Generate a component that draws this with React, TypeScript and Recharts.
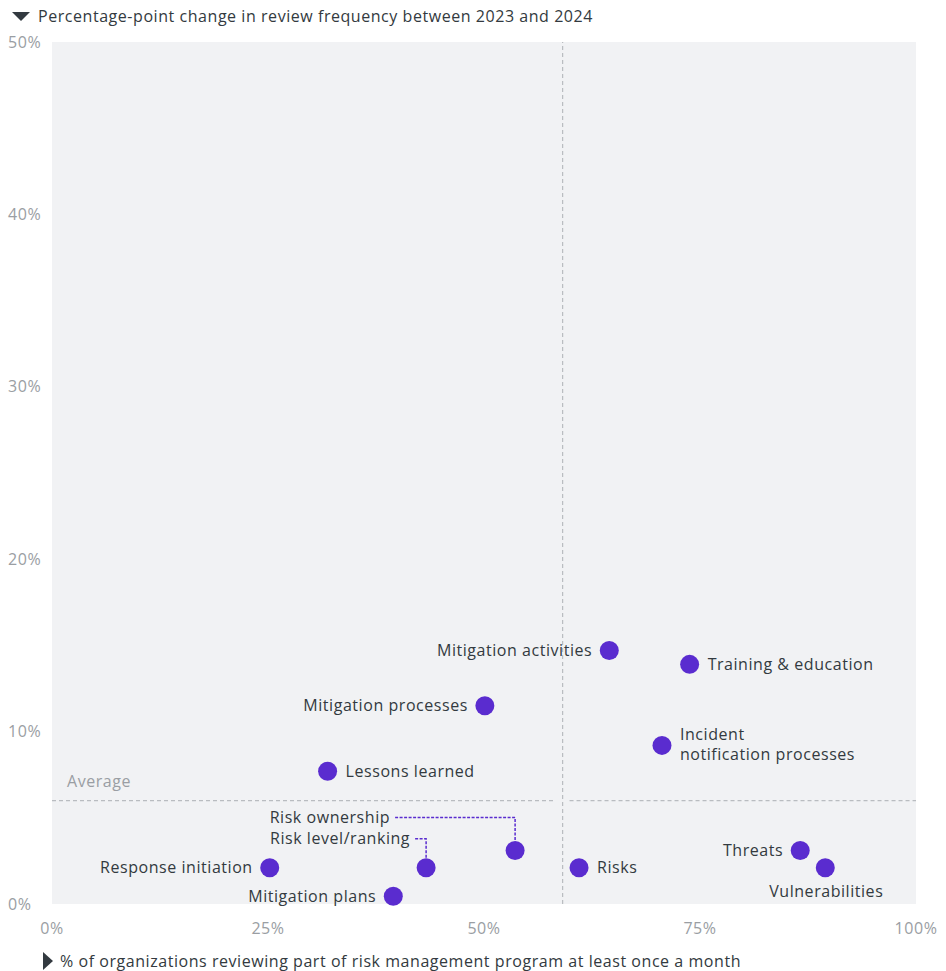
import React from 'react';
import {
  ScatterChart,
  Scatter,
  XAxis,
  YAxis,
  ReferenceArea,
  ReferenceLine,
} from 'recharts';

const names = [
  'Mitigation activities',
  'Training & education',
  'Mitigation processes',
  'Incident notification processes',
  'Lessons learned',
  'Risk ownership',
  'Risk level/ranking',
  'Response initiation',
  'Mitigation plans',
  'Risks',
  'Threats',
  'Vulnerabilities',
];
const monthlyReview = [64.5, 73.8, 50.1, 70.6, 31.9, 53.6, 43.3, 25.2, 39.5, 61.0, 86.6, 89.5];
const ppChange = [14.7, 13.9, 11.5, 9.2, 7.7, 3.1, 2.1, 2.1, 0.45, 2.1, 3.1, 2.1];

const avgX = 59.1;
const avgY = 6.0;

const xTicks = [0, 25, 50, 75, 100];
const yTicks = [0, 10, 20, 30, 40, 50];

const data = names.map((name, i) => ({ name, x: monthlyReview[i], y: ppChange[i] }));

// where each label sits relative to its dot
type Place = 'right' | 'left' | 'below' | 'incident' | 'ownership' | 'ranking';
const placement: Record<string, Place> = {
  'Mitigation activities': 'left',
  'Training & education': 'right',
  'Mitigation processes': 'left',
  'Incident notification processes': 'incident',
  'Lessons learned': 'right',
  'Risk ownership': 'ownership',
  'Risk level/ranking': 'ranking',
  'Response initiation': 'left',
  'Mitigation plans': 'left',
  Risks: 'right',
  Threats: 'left',
  Vulnerabilities: 'below',
};

const FONT = '"Open Sans", sans-serif';
const FS = 16;
const LS = 0.55;
const DOT = '#5a2ccf';
const TEXT = '#333a40';
const GRAY = '#9a9ea3';
const LINE = '#b9bcc0';

const Dot = (props: any) => {
  const { cx, cy, payload } = props;
  const place = placement[payload.name];
  const txt = { fontFamily: FONT, fontSize: FS, letterSpacing: LS, fill: TEXT };
  let label: React.ReactNode = null;
  if (place === 'right') {
    label = (
      <text x={cx + 18} y={cy} dy="0.35em" {...txt}>
        {payload.name}
      </text>
    );
  } else if (place === 'left') {
    label = (
      <text x={cx - 17} y={cy} dy="0.35em" textAnchor="end" {...txt}>
        {payload.name}
      </text>
    );
  } else if (place === 'below') {
    label = (
      <text x={cx + 1} y={cy + 24} dy="0.35em" textAnchor="middle" {...txt}>
        {payload.name}
      </text>
    );
  } else if (place === 'incident') {
    label = (
      <g>
        <text x={cx + 18} y={cy - 10.5} dy="0.35em" {...txt}>
          Incident
        </text>
        <text x={cx + 18} y={cy + 9.5} dy="0.35em" {...txt}>
          notification processes
        </text>
      </g>
    );
  } else if (place === 'ownership' || place === 'ranking') {
    const dx = place === 'ownership' ? 120 : 11;
    const dy = place === 'ownership' ? 33 : 29;
    label = (
      <g>
        <polyline
          points={`${cx - dx},${cy - dy} ${cx},${cy - dy} ${cx},${cy - 10}`}
          fill="none"
          stroke={DOT}
          strokeWidth={1.5}
          strokeDasharray="3 1.5"
        />
        <text x={cx - dx - 5} y={cy - dy} dy="0.35em" textAnchor="end" {...txt}>
          {payload.name}
        </text>
      </g>
    );
  }
  return (
    <g>
      {label}
      <circle cx={cx} cy={cy} r={9.5} fill={DOT} />
    </g>
  );
};

const XTick = (props: any) => {
  const { x, y, payload } = props;
  return (
    <text x={x} y={y + 22} textAnchor="middle" fontFamily={FONT} fontSize={FS} letterSpacing={LS} fill={GRAY}>
      {payload.value}%
    </text>
  );
};

const YTick = (props: any) => {
  const { y, payload } = props;
  return (
    <text x={8} y={y} dy="0.35em" textAnchor="start" fontFamily={FONT} fontSize={FS} letterSpacing={LS} fill={GRAY}>
      {payload.value}%
    </text>
  );
};

const AvgLabel = (props: any) => {
  const { viewBox } = props;
  return (
    <text x={viewBox.x + 15} y={viewBox.y - 19} dy="0.35em" fontFamily={FONT} fontSize={FS} letterSpacing={LS} fill={GRAY}>
      Average
    </text>
  );
};

const App: React.FC = () => {
  return (
    <div style={{ position: 'absolute', left: 0, top: 0, width: 946, height: 971, background: '#fff' }}>
      <div
        style={{
          position: 'absolute',
          left: 12,
          top: 5,
          fontFamily: FONT,
          fontSize: FS,
          letterSpacing: LS,
          color: TEXT,
          display: 'flex',
          alignItems: 'center',
        }}
      >
        <svg width={18} height={12} style={{ marginRight: 8 }}>
          <polygon points="0,2 18,2 9,11" fill={TEXT} />
        </svg>
        Percentage-point change in review frequency between 2023 and 2024
      </div>
      <ScatterChart
        width={946}
        height={971}
        margin={{ top: 42, right: 30, bottom: 37, left: 8 }}
      >
        <XAxis
          type="number"
          dataKey="x"
          domain={[0, 100]}
          ticks={xTicks}
          axisLine={false}
          tickLine={false}
          height={30}
          tick={<XTick />}
          interval={0}
        />
        <YAxis
          type="number"
          dataKey="y"
          domain={[0, 50]}
          ticks={yTicks}
          axisLine={false}
          tickLine={false}
          width={44}
          tick={<YTick />}
          interval={0}
        />
        <ReferenceArea x1={0} x2={100} y1={0} y2={50} fill="#f1f2f4" fillOpacity={1} stroke="none" />
        <ReferenceLine x={avgX} stroke={LINE} strokeDasharray="4 3" strokeWidth={1.2} />
        <ReferenceLine
          segment={[{ x: 0, y: avgY }, { x: avgX - 0.8, y: avgY }]}
          stroke={LINE}
          strokeDasharray="4 3"
          strokeWidth={1.2}
          label={<AvgLabel />}
        />
        <ReferenceLine
          segment={[{ x: avgX + 0.8, y: avgY }, { x: 100, y: avgY }]}
          stroke={LINE}
          strokeDasharray="4 3"
          strokeWidth={1.2}
        />
        <Scatter data={data} shape={<Dot />} isAnimationActive={false} />
      </ScatterChart>
      <div
        style={{
          position: 'absolute',
          left: 43,
          top: 950,
          fontFamily: FONT,
          fontSize: FS,
          letterSpacing: LS,
          color: TEXT,
          display: 'flex',
          alignItems: 'center',
        }}
      >
        <svg width={10} height={18} style={{ marginRight: 7 }}>
          <polygon points="0,0 10,9 0,18" fill={TEXT} />
        </svg>
        % of organizations reviewing part of risk management program at least once a month
      </div>
    </div>
  );
};

export default App;
